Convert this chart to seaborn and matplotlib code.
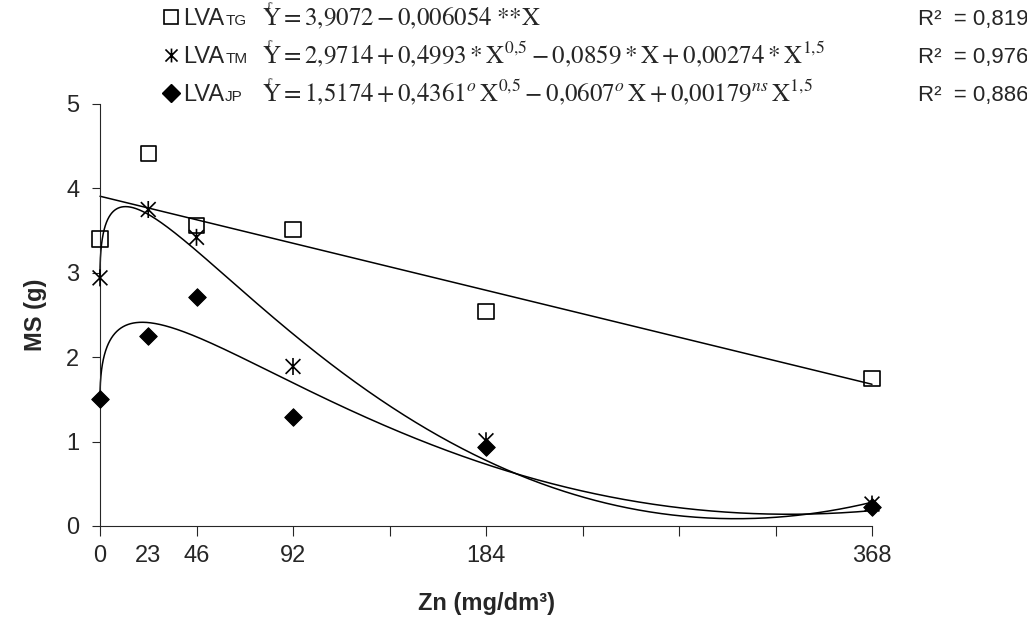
import numpy as np
import pandas as pd
import matplotlib
matplotlib.use('Agg')
import matplotlib.pyplot as plt
import seaborn as sns
from matplotlib.path import Path
from matplotlib.lines import Line2D

# Zn doses (mg/dm3) and dry matter (g) per soil
doses = [0, 23, 46, 92, 184, 368]
ms_tg = [3.40, 4.41, 3.56, 3.51, 2.54, 1.75]
ms_tm = [2.94, 3.75, 3.42, 1.89, 1.01, 0.26]
ms_jp = [1.50, 2.25, 2.71, 1.29, 0.94, 0.22]

soils = ['TG', 'TM', 'JP']
# fitted models: b0 + b1*X^0.5 + b2*X + b3*X^1.5 (coefficients as printed)
coef_tg = [3.9072, 0.0, -0.006054, 0.0]
coef_tm = [2.9714, 0.4993, -0.0859, 0.00274]
coef_jp = [1.5174, 0.4361, -0.0607, 0.00179]

eq_tg = r'$\mathrm{Y = 3{,}9072 - 0{,}006054\;{*}{*}X}$'
eq_tm = r'$\mathrm{Y = 2{,}9714 + 0{,}4993 * X^{0{,}5} - 0{,}0859 * X + 0{,}00274 * X^{1{,}5}}$'
eq_jp = (r'$\mathrm{Y = 1{,}5174 + 0{,}4361^{\mathit{o}}\,X^{0{,}5} - 0{,}0607^{\mathit{o}}\,X'
         r' + 0{,}00179^{\mathit{ns}}\,X^{1{,}5}}$')
r2_labels = ['R²  = 0,819', 'R²  = 0,976', 'R²  = 0,886']

x_major = [0, 46, 92, 138, 184, 230, 276, 322, 368]

sns.set_style('ticks')
plt.rcParams['font.family'] = ['Liberation Sans', 'DejaVu Sans']
plt.rcParams['mathtext.fontset'] = 'stix'

W, H = 1027, 627
fig = plt.figure(figsize=(W / 100, H / 100), dpi=100)
ax = fig.add_axes([100 / W, 1 - 526 / H, 772 / W, 422 / H])

# fitted curves
xs = np.linspace(0, np.sqrt(368), 700) ** 2
frames = []
for soil, c in zip(soils, [coef_tg, coef_tm, coef_jp]):
    ys = c[0] + c[1] * np.sqrt(xs) + c[2] * xs + c[3] * xs ** 1.5
    frames.append(pd.DataFrame({'zn': xs, 'ms': ys, 'solo': soil}))
curves = pd.concat(frames, ignore_index=True)
sns.lineplot(data=curves, x='zn', y='ms', hue='solo', palette=['black'] * 3,
             legend=False, sort=False, estimator=None, lw=1.1, ax=ax, clip_on=False)

# observed points
star = Path([(-1, -1), (1, 1), (-1, 1), (1, -1), (0, -1.15), (0, 1.15)],
            [Path.MOVETO, Path.LINETO, Path.MOVETO, Path.LINETO, Path.MOVETO, Path.LINETO])
obs = pd.DataFrame({'zn': doses * 3, 'ms': ms_tg + ms_tm + ms_jp,
                    'solo': [s for s in soils for _ in doses]})
sns.scatterplot(data=obs[obs.solo == 'TG'], x='zn', y='ms', marker='s', s=120,
                facecolor='none', edgecolor='black', linewidth=1.2, ax=ax, clip_on=False, zorder=3)
sns.scatterplot(data=obs[obs.solo == 'TM'], x='zn', y='ms', marker=star, s=150,
                facecolor='none', edgecolor='black', linewidth=1.2, ax=ax, clip_on=False, zorder=3)
sns.scatterplot(data=obs[obs.solo == 'JP'], x='zn', y='ms', marker='D', s=80,
                color='black', edgecolor='black', ax=ax, clip_on=False, zorder=3)

ax.set_xlim(0, 368)
ax.set_ylim(0, 5)
ax.xaxis.remove_overlapping_locs = False
ax.set_xticks(doses)
ax.set_xticklabels([str(d) for d in doses])
ax.set_xticks(x_major, minor=True)
ax.tick_params(axis='x', which='major', length=0, pad=14, labelsize=17)
ax.tick_params(axis='x', which='minor', length=7, width=0.8, direction='out')
ax.set_yticks(range(6))
ax.tick_params(axis='y', length=6, width=0.8, pad=9, labelsize=17)
sns.despine(ax=ax)
for sp in ax.spines.values():
    sp.set_linewidth(0.8)
ax.set_xlabel('Zn (mg/dm³)', fontsize=17, fontweight='bold', labelpad=18)
ax.set_ylabel('MS (g)', fontsize=17, fontweight='bold', labelpad=14)

# legend block with equations
fx = lambda px: px / W
fy = lambda py: 1 - py / H
rows = [25, 63, 101]
mk = [dict(marker='s', markersize=10, mfc='none', mec='black', mew=1.2),
      dict(marker=star, markersize=10, mfc='none', mec='black', mew=1.2),
      dict(marker='D', markersize=9, mfc='black', mec='black')]
eqs = [eq_tg, eq_tm, eq_jp]
for i, base in enumerate(rows):
    fig.add_artist(Line2D([fx(171)], [fy(base - 8)], transform=fig.transFigure, **mk[i]))
    t = fig.text(fx(183), fy(base), 'LVA', fontsize=17, va='baseline', ha='left')
    fig.canvas.draw()
    bb = t.get_window_extent()
    fig.text(bb.x1 / W + 1 / W, fy(base), soils[i], fontsize=11, va='baseline', ha='left')
    fig.text(fx(262), fy(base), eqs[i], fontsize=18, va='baseline', ha='left')
    fig.text(fx(269), fy(base - 18), 'ʃ', fontsize=8, rotation=-15, va='center', ha='center',
             family=['DejaVu Serif'])
    fig.text(fx(918), fy(base), r2_labels[i], fontsize=16, va='baseline', ha='left')

fig.savefig('out.png', dpi=100)
